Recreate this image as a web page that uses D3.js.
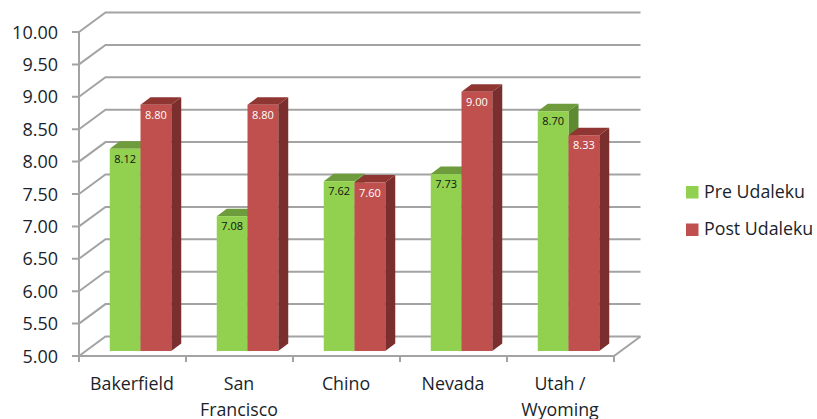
<!DOCTYPE html>
<html><head><meta charset="utf-8">
<script src="https://cdn.jsdelivr.net/npm/d3@7"></script>
<style>html,body{margin:0;padding:0;background:#fff}svg{display:block}</style>
</head><body><svg id="c" width="817" height="419"></svg>
<script>
const categories = [["Bakerfield"],["San","Francisco"],["Chino"],["Nevada"],["Utah /","Wyoming"]];
const preValues = [8.12,7.08,7.62,7.73,8.70];
const postValues = [8.80,8.80,7.60,9.00,8.33];
const seriesNames = ["Pre Udaleku","Post Udaleku"];
const yTicks = [5,5.5,6,6.5,7,7.5,8,8.5,9,9.5,10];
const font = "'Open Sans', 'Noto Sans', sans-serif";
const svg = d3.select("#c");
const y = d3.scaleLinear().domain([5,10]).range([356,32]);
const x = d3.scaleBand().domain(d3.range(categories.length)).range([79,614]);
const inner = d3.scaleBand().domain([0,1]).range([0,61.5]);
const wall = {dx:26.5, dy:-19.5};
const front = {dx:8, dy:-5};
const depth = {dx:10, dy:-7.5};
const axisC = "#a3a3a3";
const textC = "#1a1f2b";
const grid = svg.append("g").attr("fill","none").attr("stroke",axisC).attr("stroke-width",2);
grid.selectAll("path").data(yTicks).join("path")
  .attr("d",v=>{const p=d3.path();p.moveTo(79,y(v));p.lineTo(79+wall.dx,y(v)+wall.dy);p.lineTo(614+wall.dx,y(v)+wall.dy);return p.toString();});
const fl=d3.path();fl.moveTo(79,y(10));fl.lineTo(79,y(5)+6);
fl.moveTo(72,y(5));fl.lineTo(614,y(5));fl.lineTo(614+wall.dx,y(5)+wall.dy);
yTicks.forEach(v=>{fl.moveTo(72,y(v));fl.lineTo(79,y(v));});
d3.range(categories.length+1).forEach(i=>{const X=i<categories.length?x(i):x.range()[1];fl.moveTo(X,y(5));fl.lineTo(X,y(5)+6);});
grid.append("path").attr("d",fl.toString());
svg.append("g").selectAll("text").data(yTicks).join("text")
  .attr("x",58).attr("y",v=>y(v)+6.5).attr("text-anchor","end")
  .attr("font-family",font).attr("font-size",18).attr("fill",textC)
  .text(v=>v.toFixed(2));
const styles=[{f:"#92d14f",t:"#6e9c3c",s:"#5e8a32",l:"#111"},{f:"#c0504d",t:"#8f3633",s:"#7a2f2e",l:"#fff"}];
[preValues,postValues].forEach((vals,si)=>{
  const st=styles[si];
  const g=svg.append("g").selectAll("g").data(vals).join("g");
  const X0=(d,i)=>x(i)+x.step()/2-inner.range()[1]/2+front.dx+inner(si);
  const w=inner.bandwidth();
  const base=y(5)+front.dy, top=d=>y(d)+front.dy;
  g.append("path").attr("fill",st.s).attr("d",(d,i)=>{const a=X0(d,i)+w;return d3.line()([[a,top(d)],[a+depth.dx,top(d)+depth.dy],[a+depth.dx,base+depth.dy],[a,base]]);});
  g.append("path").attr("fill",st.t).attr("d",(d,i)=>{const a=X0(d,i);return d3.line()([[a,top(d)],[a+depth.dx,top(d)+depth.dy],[a+w+depth.dx,top(d)+depth.dy],[a+w,top(d)]]);});
  g.append("rect").attr("fill",st.f).attr("x",X0).attr("y",top).attr("width",w).attr("height",d=>base-top(d));
  g.append("text").attr("x",(d,i)=>X0(d,i)+w/2).attr("y",d=>top(d)+14).attr("text-anchor","middle")
   .attr("font-family",font).attr("font-size",11).attr("fill",st.l).text(d=>d.toFixed(2));
});
const cg=svg.append("g").selectAll("g").data(categories).join("text")
  .attr("text-anchor","middle").attr("font-family",font).attr("font-size",17.8).attr("fill",textC);
cg.selectAll("tspan").data((d,i)=>d.map((s,j)=>({s,j,i}))).join("tspan")
  .attr("x",d=>x(d.i)+x.step()/2-0.5).attr("y",d=>390+d.j*25.5).text(d=>d.s);
const lg=svg.append("g").selectAll("g").data(seriesNames).join("g");
lg.append("rect").attr("x",686).attr("y",(d,i)=>186+i*37.5).attr("width",12.5).attr("height",12.5).attr("fill",(d,i)=>styles[i].f);
lg.append("text").attr("x",704).attr("y",(d,i)=>197.5+i*37.5).attr("font-family",font).attr("font-size",17.8).attr("fill",textC).text(d=>d);
</script></body></html>
